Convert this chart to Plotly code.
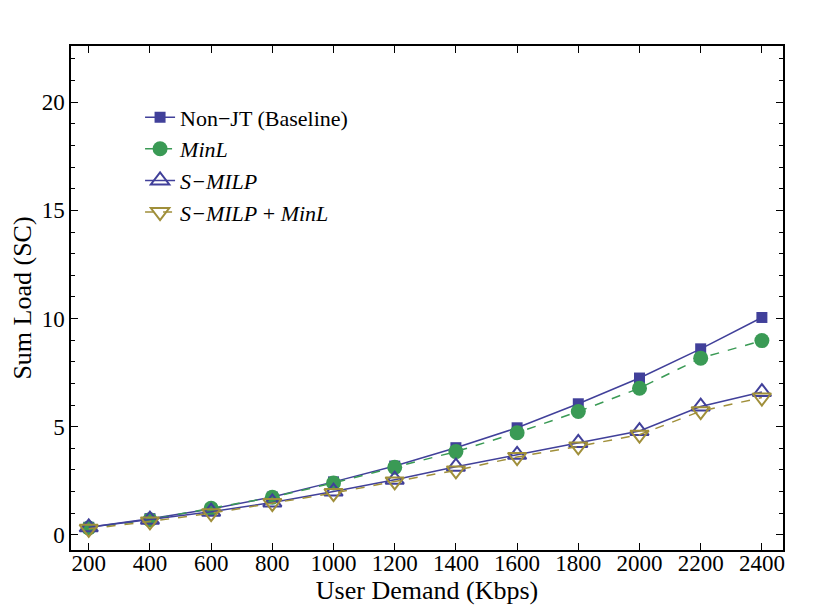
import plotly.graph_objects as go

# data
demand = [200, 400, 600, 800, 1000, 1200, 1400, 1600, 1800, 2000, 2200, 2400]
non_jt = [0.35, 0.75, 1.2, 1.75, 2.45, 3.18, 4.03, 4.95, 6.06, 7.25, 8.6, 10.05]
min_l = [0.32, 0.7, 1.23, 1.74, 2.4, 3.12, 3.85, 4.72, 5.7, 6.78, 8.17, 8.98]
s_milp = [0.35, 0.7, 1.07, 1.5, 2.0, 2.55, 3.15, 3.7, 4.25, 4.8, 5.93, 6.6]
s_milp_minl = [0.28, 0.62, 1.0, 1.47, 1.93, 2.47, 2.98, 3.6, 4.09, 4.63, 5.72, 6.35]

BLUE = '#41409A'
GREEN = '#3A9A55'
OLIVE = '#A08F3A'
FONT = 'Liberation Serif, Times New Roman, serif'

fig = go.Figure()
fig.add_trace(go.Scatter(
    x=demand, y=non_jt, mode='lines+markers', name='Non\u2212JT (Baseline)',
    line=dict(color=BLUE, width=1.5),
    marker=dict(symbol='square', size=11, color=BLUE),
))
fig.add_trace(go.Scatter(
    x=demand, y=min_l, mode='lines+markers', name='<i>MinL</i>',
    line=dict(color=GREEN, width=1.5, dash='dash'),
    marker=dict(symbol='circle', size=15, color=GREEN),
))
fig.add_trace(go.Scatter(
    x=demand, y=s_milp, mode='lines+markers', name='<i>S\u2212MILP</i>',
    line=dict(color=BLUE, width=1.5),
    marker=dict(symbol='triangle-up-open', size=16, color=BLUE, line=dict(width=2)),
))
fig.add_trace(go.Scatter(
    x=demand, y=s_milp_minl, mode='lines+markers', name='<i>S\u2212MILP</i> + <i>MinL</i>',
    line=dict(color=OLIVE, width=1.5, dash='dash'),
    marker=dict(symbol='triangle-down-open', size=16, color=OLIVE, line=dict(width=2)),
))

axis_common = dict(
    showline=True, linecolor='black', linewidth=1.5, mirror='ticks',
    ticks='inside', ticklen=7, tickcolor='black', tickwidth=1,
    showgrid=False, zeroline=False, automargin=False,
    tickfont=dict(family=FONT, size=23, color='black'),
)

# page body has an 8px margin, so the figure is 8px smaller than the window
fig.update_layout(
    width=822, height=603,
    paper_bgcolor='white', plot_bgcolor='white',
    margin=dict(l=63, r=47, t=38, b=61),
    font=dict(family=FONT, color='black'),
    showlegend=True,
    legend=dict(
        x=0.097, y=0.9, xanchor='left', yanchor='top',
        bgcolor='rgba(0,0,0,0)', borderwidth=0,
        font=dict(family=FONT, size=22, color='black'),
        tracegroupgap=0, itemwidth=30,
    ),
    xaxis=dict(
        axis_common, range=[142, 2469],
        tickmode='array', tickvals=demand, ticktext=[str(d) for d in demand],
        ticklabelstandoff=-8,
        title=dict(text='User Demand (Kbps)', font=dict(family=FONT, size=26), standoff=0),
    ),
    yaxis=dict(
        axis_common, range=[-0.7, 22.6],
        tickmode='array', tickvals=[0, 5, 10, 15, 20],
        minor=dict(ticks='inside', ticklen=4, dtick=1, tick0=0, tickcolor='black', showgrid=False),
        title=dict(text='Sum Load (SC)', font=dict(family=FONT, size=26), standoff=4),
    ),
)

fig.write_html('out.html')
